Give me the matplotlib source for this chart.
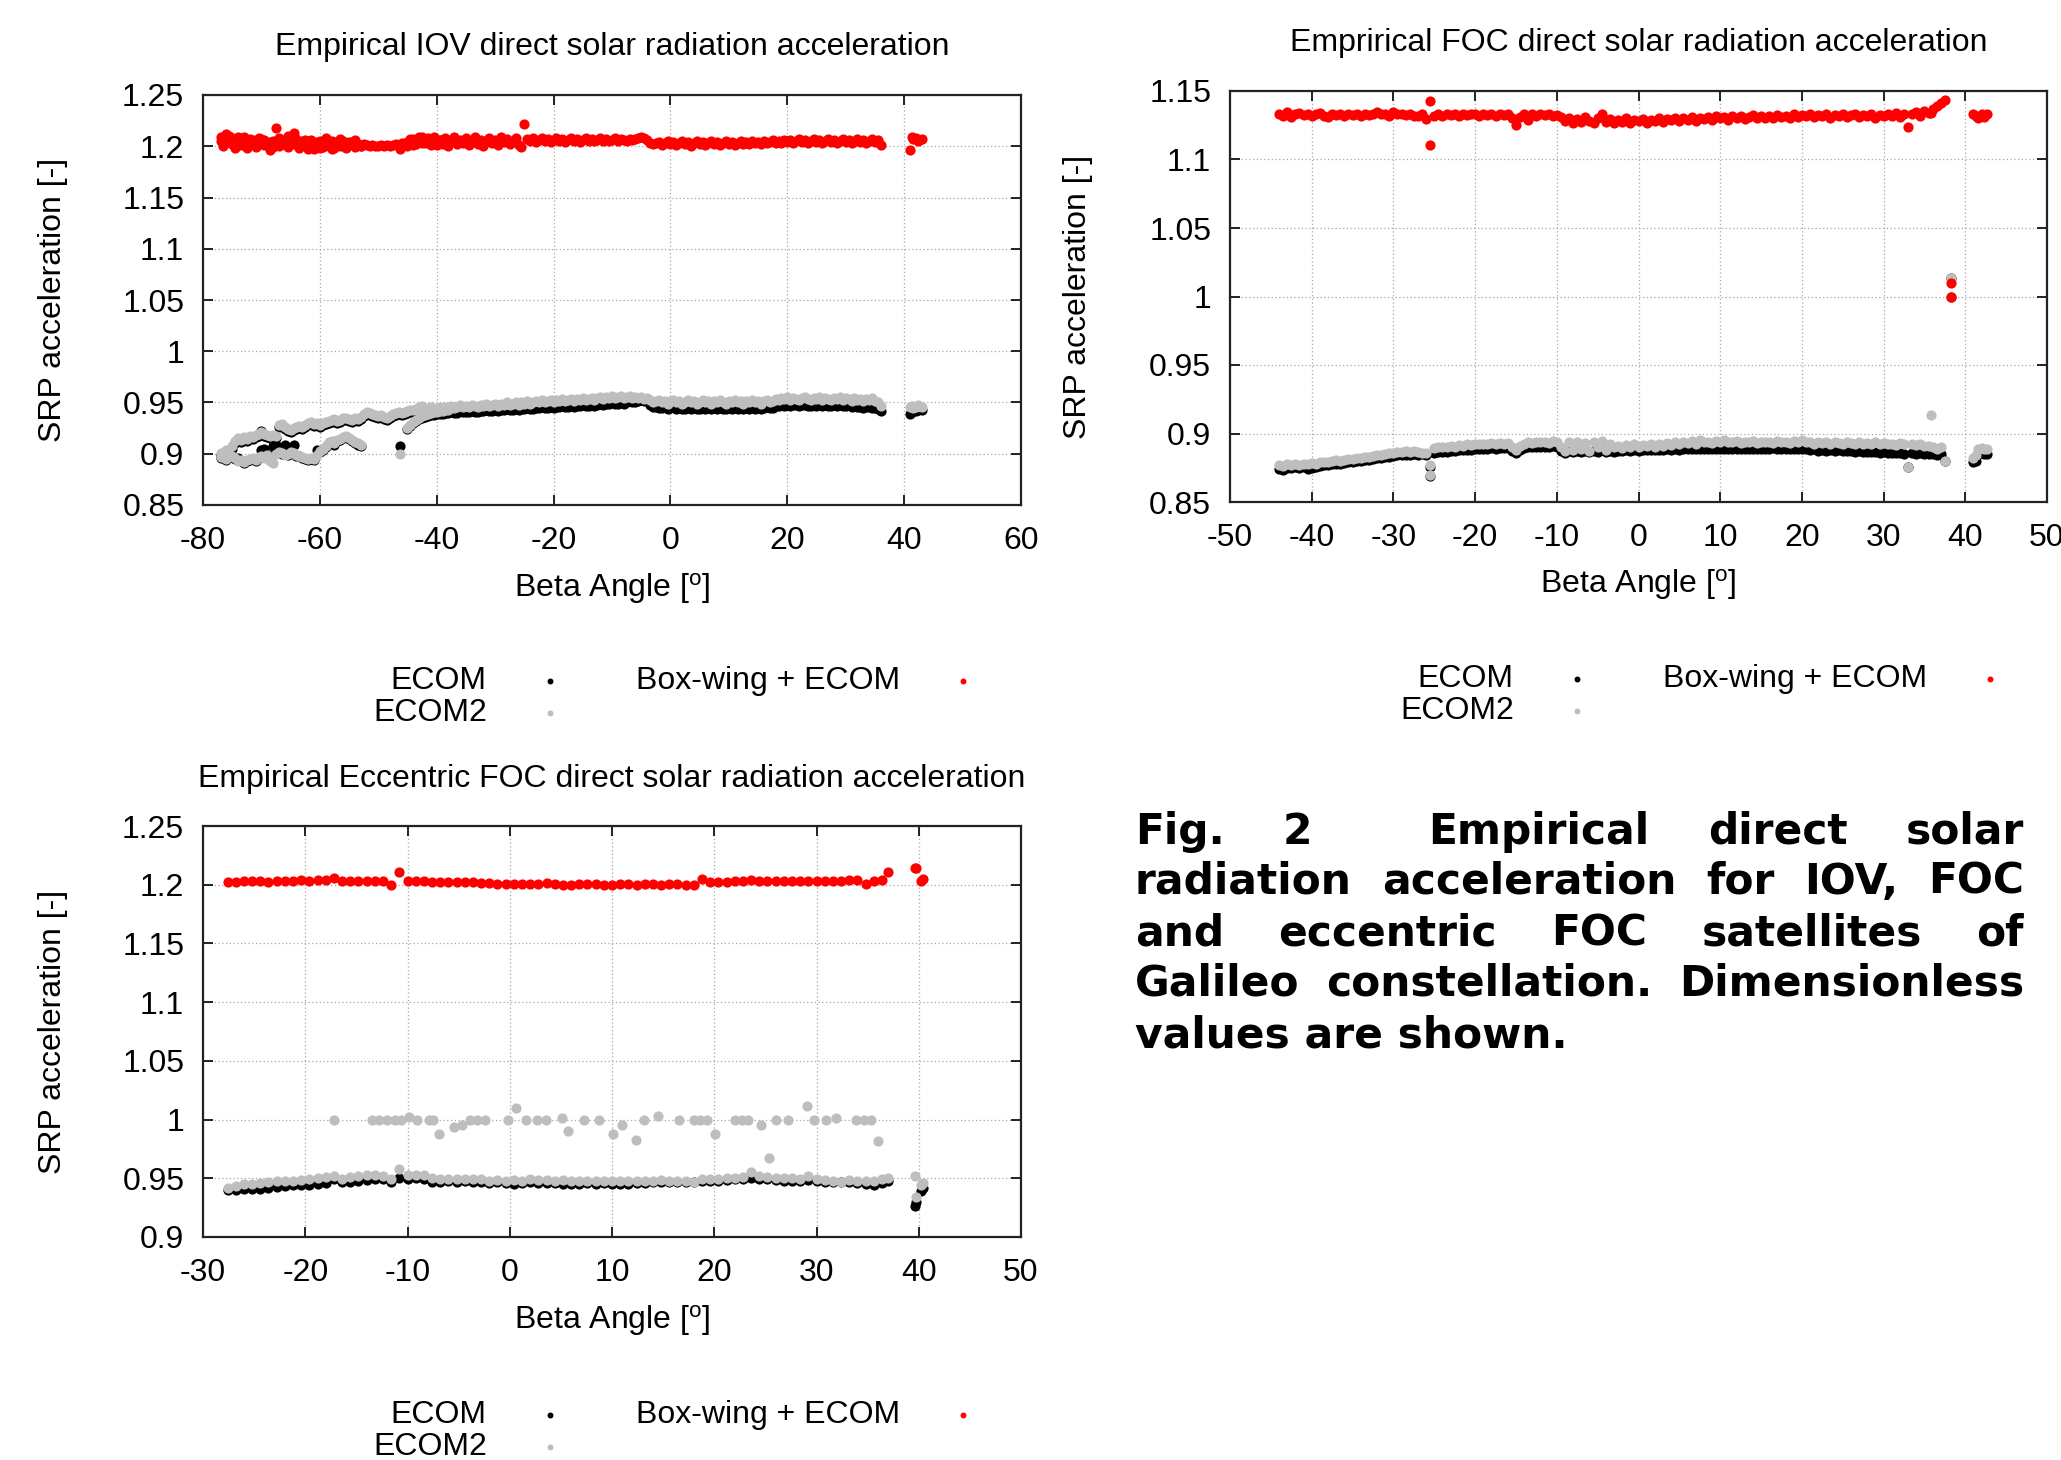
import numpy as np
import matplotlib
matplotlib.use("Agg")
import matplotlib.pyplot as plt
from matplotlib.ticker import FormatStrFormatter

plt.rcParams['font.family'] = ['Liberation Sans', 'DejaVu Sans']
plt.rcParams['mathtext.fontset'] = 'custom'
plt.rcParams['mathtext.rm'] = 'Liberation Sans'
plt.rcParams['mathtext.it'] = 'Liberation Sans:italic'
plt.rcParams['mathtext.bf'] = 'Liberation Sans:bold'

# ---------------------------------------------------------------- labels
series_labels = ["ECOM", "ECOM2", "Box-wing + ECOM"]
x_label = r"Beta Angle [$^{\mathrm{o}}$]"
y_label = "SRP acceleration [-]"
titles = ["Empirical IOV direct solar radiation acceleration",
          "Emprirical FOC direct solar radiation acceleration",
          "Empirical Eccentric FOC direct solar radiation acceleration"]

iov_xticks = [-80, -60, -40, -20, 0, 20, 40, 60]
iov_yticks = [0.85, 0.9, 0.95, 1.0, 1.05, 1.1, 1.15, 1.2, 1.25]
foc_xticks = [-50, -40, -30, -20, -10, 0, 10, 20, 30, 40, 50]
foc_yticks = [0.85, 0.9, 0.95, 1.0, 1.05, 1.1, 1.15]
ecc_xticks = [-30, -20, -10, 0, 10, 20, 30, 40, 50]
ecc_yticks = [0.9, 0.95, 1.0, 1.05, 1.1, 1.15, 1.2, 1.25]

# ---------------------------------------------------------------- IOV data
iov_beta = [
    # main branch
    -77.0, -76.5, -76.0, -75.5, -75.0, -74.5, -74.0, -73.5, -73.0, -72.5,
    -72.0, -71.5, -71.0, -70.5, -70.0, -69.5, -69.0, -68.5, -68.0, -67.5,
    -67.0, -66.5, -66.0, -65.5, -65.0, -64.5, -64.0, -63.5, -63.0, -62.5,
    -62.0, -61.5, -61.0, -60.5, -60.0, -59.5, -59.0, -58.5, -58.0, -57.5,
    -57.0, -56.5, -56.0, -55.5, -55.0, -54.5, -54.0, -53.5, -53.0, -52.5,
    -52.0, -51.5, -51.0, -50.5, -50.0, -49.5, -49.0, -48.5, -48.0, -47.5,
    -47.0, -46.5, -46.0, -45.5, -45.0, -44.5, -44.0, -43.5, -43.0, -42.5,
    -42.0, -41.5, -41.0, -40.5, -40.0,
    -39.5, -39.0, -38.5, -38.0, -37.5, -37.0, -36.5, -36.0, -35.5, -35.0,
    -34.5, -34.0, -33.5, -33.0, -32.5, -32.0, -31.5, -31.0, -30.5, -30.0,
    -29.5, -29.0, -28.5, -28.0, -27.5, -27.0, -26.5, -26.0, -25.5, -25.0,
    -24.5, -24.0, -23.5, -23.0, -22.5, -22.0, -21.5, -21.0, -20.5, -20.0,
    -19.5, -19.0, -18.5, -18.0, -17.5, -17.0, -16.5, -16.0, -15.5, -15.0,
    -14.5, -14.0, -13.5, -13.0, -12.5, -12.0,
    -11.5, -11.0, -10.5, -10.0, -9.5, -9.0, -8.5, -8.0, -7.5, -7.0,
    -6.5, -6.0, -5.5, -5.0, -4.5, -4.0,
    -3.5, -3.0, -2.5, -2.0, -1.5, -1.0, -0.5, 0.0, 0.5, 1.0,
    1.5, 2.0, 2.5, 3.0, 3.5, 4.0, 4.5, 5.0, 5.5, 6.0,
    6.5, 7.0, 7.5, 8.0, 8.5, 9.0, 9.5, 10.0, 10.5, 11.0,
    11.5, 12.0, 12.5, 13.0, 13.5, 14.0, 14.5, 15.0, 15.5, 16.0,
    16.5, 17.0, 17.5, 18.0,
    18.5, 19.0, 19.5, 20.0, 20.5, 21.0, 21.5, 22.0, 22.5, 23.0,
    23.5, 24.0, 24.5, 25.0, 25.5, 26.0, 26.5, 27.0, 27.5, 28.0,
    28.5, 29.0, 29.5, 30.0, 30.5, 31.0, 31.5, 32.0, 32.5, 33.0,
    33.5, 34.0, 34.5, 35.0, 35.5,
    36.0,
    # lower branch on the left
    -77.0, -76.5, -76.0, -75.5, -75.0, -74.5, -74.0, -73.5, -73.0, -72.5,
    -72.0, -71.5, -71.0, -70.5, -70.0, -69.5, -69.0, -68.5, -68.0, -67.5,
    -67.0, -66.5, -66.0, -65.5, -65.0, -64.5, -64.0, -63.5, -63.0, -62.5,
    -62.0, -61.5, -61.0, -60.5, -60.0, -59.5, -59.0, -58.5, -58.0, -57.5,
    -57.0, -56.5, -56.0, -55.5, -55.0, -54.5, -54.0, -53.5, -53.0,
    # rising sub-branch
    -45.0, -44.5, -44.0, -43.5, -43.0, -42.5, -42.0, -41.5, -41.0, -40.5,
    -40.0, -39.5, -39.0, -38.5, -38.0,
    # isolated day
    -46.3,
    # after the gap
    41.0, 41.3, 41.6, 42.0, 42.3, 42.6, 43.0,
]

iov_ecom = [
    0.899, 0.896, 0.902, 0.897, 0.905, 0.910, 0.913, 0.911, 0.914, 0.912,
    0.915, 0.914, 0.916, 0.917, 0.9225, 0.917, 0.916, 0.915, 0.916, 0.915,
    0.926, 0.927, 0.924, 0.922, 0.921, 0.923, 0.924, 0.925, 0.924, 0.926,
    0.928, 0.929, 0.927, 0.928, 0.926, 0.928, 0.929, 0.930, 0.931, 0.932,
    0.930, 0.931, 0.933, 0.933, 0.932, 0.931, 0.933, 0.932, 0.934, 0.937,
    0.939, 0.938, 0.937, 0.936, 0.935, 0.936, 0.934, 0.933, 0.935, 0.937,
    0.938, 0.939, 0.938, 0.939, 0.940, 0.941, 0.941, 0.942, 0.943, 0.944,
    0.941, 0.942, 0.943, 0.941, 0.941,
    0.940, 0.939, 0.940, 0.940, 0.941, 0.940, 0.940, 0.942, 0.941, 0.941,
    0.941, 0.942, 0.941, 0.941, 0.942, 0.942, 0.943, 0.942, 0.942, 0.943,
    0.942, 0.943, 0.943, 0.944, 0.943, 0.943, 0.944, 0.943, 0.944, 0.944,
    0.945, 0.944, 0.944, 0.945, 0.945, 0.946, 0.945, 0.945, 0.946, 0.945,
    0.946, 0.946, 0.947, 0.946, 0.946, 0.947, 0.946, 0.947, 0.947, 0.948,
    0.947, 0.947, 0.948, 0.947, 0.948, 0.949,
    0.948, 0.949, 0.949, 0.950, 0.949, 0.949, 0.950, 0.949, 0.950, 0.951,
    0.950, 0.950, 0.951, 0.952, 0.951, 0.951,
    0.948, 0.946, 0.946, 0.945, 0.945, 0.946, 0.944, 0.945, 0.946, 0.944,
    0.945, 0.944, 0.944, 0.945, 0.944, 0.945, 0.944, 0.944, 0.945, 0.944,
    0.945, 0.944, 0.945, 0.944, 0.945, 0.944, 0.944, 0.945, 0.944, 0.945,
    0.944, 0.945, 0.944, 0.945, 0.944, 0.945, 0.944, 0.945, 0.944, 0.945,
    0.946, 0.945, 0.945, 0.947,
    0.947, 0.948, 0.947, 0.948, 0.947, 0.948, 0.948, 0.947, 0.948, 0.948,
    0.947, 0.947, 0.948, 0.947, 0.948, 0.947, 0.948, 0.947, 0.947, 0.948,
    0.947, 0.948, 0.947, 0.947, 0.948, 0.946, 0.947, 0.946, 0.946, 0.945,
    0.946, 0.946, 0.945, 0.945, 0.944,
    0.942,
    0.896, 0.898, 0.894, 0.899, 0.897, 0.895, 0.8955, 0.893, 0.891, 0.893,
    0.894, 0.895, 0.893, 0.896, 0.904, 0.905, 0.898, 0.8985, 0.908, 0.9085,
    0.901, 0.900, 0.9085, 0.899, 0.901, 0.9085, 0.898, 0.8978, 0.896, 0.895,
    0.894, 0.895, 0.894, 0.9036, 0.902, 0.904, 0.907, 0.910, 0.911, 0.909,
    0.912, 0.913, 0.915, 0.916, 0.914, 0.912, 0.910, 0.909, 0.908,
    0.924, 0.927, 0.930, 0.932, 0.934, 0.935, 0.936, 0.937, 0.938, 0.938,
    0.939, 0.939, 0.940, 0.940, 0.941,
    0.9075,
    0.939, 0.941, 0.943, 0.942, 0.943, 0.944, 0.943,
]

iov_ecom2 = [
    0.901, 0.897, 0.904, 0.899, 0.908, 0.912, 0.915, 0.913, 0.916, 0.914,
    0.917, 0.916, 0.918, 0.919, 0.921, 0.919, 0.918, 0.917, 0.918, 0.917,
    0.928, 0.929, 0.926, 0.924, 0.923, 0.925, 0.926, 0.927, 0.926, 0.928,
    0.930, 0.931, 0.929, 0.930, 0.928, 0.930, 0.931, 0.932, 0.933, 0.934,
    0.932, 0.933, 0.935, 0.935, 0.934, 0.933, 0.935, 0.934, 0.936, 0.939,
    0.941, 0.940, 0.939, 0.938, 0.937, 0.938, 0.936, 0.935, 0.937, 0.939,
    0.940, 0.941, 0.940, 0.941, 0.942, 0.943, 0.943, 0.944, 0.946, 0.947,
    0.944, 0.945, 0.946, 0.944, 0.945,
    0.946, 0.944, 0.946, 0.945, 0.947, 0.945, 0.946, 0.948, 0.946, 0.947,
    0.946, 0.948, 0.947, 0.946, 0.948, 0.947, 0.949, 0.947, 0.948, 0.949,
    0.947, 0.949, 0.948, 0.950, 0.948, 0.949, 0.950, 0.948, 0.950, 0.949,
    0.951, 0.949, 0.950, 0.951, 0.950, 0.952, 0.950, 0.951, 0.952, 0.950,
    0.952, 0.951, 0.953, 0.951, 0.952, 0.953, 0.951, 0.953, 0.952, 0.954,
    0.952, 0.953, 0.954, 0.952, 0.954, 0.955,
    0.953, 0.955, 0.954, 0.956, 0.954, 0.955, 0.956, 0.954, 0.955, 0.956,
    0.954, 0.955, 0.954, 0.955, 0.953, 0.954,
    0.952, 0.950, 0.951, 0.952, 0.950, 0.951, 0.949, 0.951, 0.952, 0.950,
    0.951, 0.949, 0.950, 0.952, 0.950, 0.951, 0.949, 0.950, 0.952, 0.950,
    0.951, 0.949, 0.951, 0.950, 0.952, 0.950, 0.949, 0.951, 0.950, 0.952,
    0.950, 0.951, 0.949, 0.951, 0.950, 0.952, 0.950, 0.951, 0.949, 0.951,
    0.952, 0.950, 0.951, 0.953,
    0.952, 0.954, 0.953, 0.955, 0.952, 0.954, 0.953, 0.952, 0.954, 0.955,
    0.953, 0.952, 0.954, 0.953, 0.955, 0.952, 0.954, 0.953, 0.952, 0.954,
    0.953, 0.955, 0.952, 0.954, 0.953, 0.951, 0.954, 0.952, 0.953, 0.951,
    0.953, 0.952, 0.954, 0.951, 0.950,
    0.947,
    0.897, 0.899, 0.895, 0.900, 0.898, 0.896, 0.893, 0.894, 0.892, 0.894,
    0.895, 0.896, 0.894, 0.897, 0.898, 0.896, 0.899, 0.893, 0.891, 0.900,
    0.902, 0.901, 0.899, 0.900, 0.902, 0.901, 0.899, 0.898, 0.897, 0.896,
    0.895, 0.896, 0.895, 0.899, 0.903, 0.905, 0.908, 0.911, 0.912, 0.910,
    0.913, 0.914, 0.916, 0.917, 0.915, 0.913, 0.911, 0.910, 0.909,
    0.925, 0.928, 0.931, 0.933, 0.935, 0.937, 0.938, 0.939, 0.940, 0.941,
    0.941, 0.942, 0.942, 0.943, 0.943,
    0.900,
    0.946, 0.947, 0.945, 0.946, 0.948, 0.947, 0.946,
]

iov_boxwing = [
    1.209, 1.203, 1.212, 1.205, 1.208, 1.204, 1.209, 1.201, 1.206, 1.198,
    1.207, 1.204, 1.205, 1.208, 1.203, 1.206, 1.201, 1.204, 1.199, 1.2175,
    1.208, 1.202, 1.205, 1.210, 1.204, 1.213, 1.207, 1.202, 1.205, 1.203,
    1.197, 1.206, 1.201, 1.204, 1.198, 1.203, 1.208, 1.201, 1.197, 1.204,
    1.202, 1.207, 1.203, 1.200, 1.204, 1.203, 1.206, 1.201, 1.200, 1.202,
    1.201, 1.200, 1.201, 1.200, 1.200, 1.201, 1.200, 1.201, 1.200, 1.201,
    1.202, 1.201, 1.203, 1.201, 1.204, 1.207, 1.201, 1.205, 1.209, 1.203,
    1.206, 1.208, 1.202, 1.209, 1.201,
    1.206, 1.203, 1.208, 1.200, 1.205, 1.209, 1.202, 1.206, 1.203, 1.208,
    1.201, 1.205, 1.209, 1.202, 1.206, 1.200, 1.204, 1.208, 1.203, 1.206,
    1.201, 1.209, 1.204, 1.207, 1.202, 1.205, 1.208, 1.201, 1.199, 1.2214,
    1.207, 1.205, 1.208, 1.204, 1.206, 1.208, 1.205, 1.207, 1.204, 1.206,
    1.208, 1.205, 1.207, 1.204, 1.206, 1.208, 1.205, 1.207, 1.204, 1.206,
    1.208, 1.205, 1.207, 1.205, 1.206, 1.208,
    1.205, 1.207, 1.205, 1.206, 1.208, 1.205, 1.207, 1.206, 1.205, 1.207,
    1.206, 1.207, 1.208, 1.209, 1.208, 1.206,
    1.203, 1.202, 1.203, 1.204, 1.201, 1.203, 1.205, 1.202, 1.204, 1.201,
    1.203, 1.205, 1.202, 1.204, 1.200, 1.203, 1.205, 1.202, 1.204, 1.201,
    1.203, 1.205, 1.202, 1.204, 1.201, 1.203, 1.205, 1.202, 1.204, 1.201,
    1.203, 1.205, 1.202, 1.204, 1.202, 1.205, 1.203, 1.204, 1.202, 1.205,
    1.203, 1.204, 1.206, 1.203,
    1.205, 1.203, 1.206, 1.204, 1.206, 1.203, 1.205, 1.207, 1.204, 1.206,
    1.203, 1.205, 1.207, 1.204, 1.206, 1.203, 1.205, 1.207, 1.204, 1.206,
    1.203, 1.205, 1.207, 1.204, 1.206, 1.203, 1.205, 1.207, 1.204, 1.206,
    1.203, 1.205, 1.207, 1.204, 1.206,
    1.201,
    1.205, 1.200, 1.207, 1.210, 1.202, 1.198, 1.206, 1.203, 1.209, 1.200,
    1.202, 1.206, 1.199, 1.204, 1.207, 1.201, 1.203, 1.196, 1.205, 1.202,
    1.200, 1.206, 1.203, 1.199, 1.207, 1.202, 1.204, 1.198, 1.203, 1.206,
    1.200, 1.204, 1.197, 1.202, 1.205, 1.199, 1.203, 1.200, 1.205, 1.198,
    1.203, 1.200, 1.205, 1.198, 1.202, 1.204, 1.199, 1.202, 1.200,
    1.200, 1.204, 1.207, 1.202, 1.206, 1.209, 1.203, 1.205, 1.201, 1.208,
    1.204, 1.206, 1.202, 1.207, 1.205,
    1.197,
    1.196, 1.209, 1.207, 1.208, 1.205, 1.206, 1.207,
]

# ---------------------------------------------------------------- FOC data
foc_beta = [
    -44.0, -43.5, -43.0, -42.5, -42.0, -41.5, -41.0, -40.5, -40.0, -39.5,
    -39.0, -38.5, -38.0, -37.5, -37.0, -36.5, -36.0, -35.5, -35.0, -34.5,
    -34.0, -33.5, -33.0, -32.5, -32.0, -31.5, -31.0, -30.5, -30.0, -29.5,
    -29.0, -28.5, -28.0, -27.5, -27.0, -26.5, -26.0, -25.5, -25.0, -24.5,
    -24.0, -23.5, -23.0, -22.5, -22.0, -21.5, -21.0, -20.5, -20.0, -19.5,
    -19.0, -18.5, -18.0, -17.5, -17.0, -16.5, -16.0, -15.5, -15.0, -14.5,
    -14.0, -13.5, -13.0, -12.5, -12.0, -11.5, -11.0, -10.5, -10.0, -9.5,
    -9.0, -8.5, -8.0, -7.5, -7.0, -6.5, -6.0, -5.5, -5.0, -4.5,
    -4.0, -3.5, -3.0, -2.5, -2.0, -1.5, -1.0, -0.5, 0.0, 0.5,
    1.0, 1.5, 2.0, 2.5, 3.0, 3.5, 4.0, 4.5, 5.0, 5.5,
    6.0, 6.5, 7.0, 7.5, 8.0, 8.5, 9.0, 9.5, 10.0, 10.5,
    11.0, 11.5, 12.0, 12.5, 13.0, 13.5, 14.0, 14.5, 15.0, 15.5,
    16.0, 16.5, 17.0, 17.5, 18.0, 18.5, 19.0, 19.5, 20.0, 20.5,
    21.0, 21.5, 22.0, 22.5, 23.0, 23.5, 24.0, 24.5, 25.0, 25.5,
    26.0, 26.5, 27.0, 27.5, 28.0, 28.5, 29.0, 29.5, 30.0, 30.5,
    31.0, 31.5, 32.0, 32.5, 33.0, 33.5, 34.0, 34.5, 35.0, 35.5,
    36.0, 36.5, 37.0, 37.5,
    # isolated days
    -25.5, 35.8, 38.2, 38.3, 41.0, 41.3, 41.6, 42.0, 42.3, 42.6,
]

foc_ecom = [
    0.8744, 0.8735, 0.8750, 0.8745, 0.8752, 0.8748, 0.8755, 0.8740, 0.8750, 0.8755,
    0.8765, 0.8770, 0.8768, 0.8775, 0.8780, 0.8778, 0.8785, 0.8790, 0.8792, 0.8796,
    0.8800, 0.8805, 0.8808, 0.8812, 0.8818, 0.8822, 0.8828, 0.8832, 0.8836, 0.8840,
    0.8842, 0.8846, 0.8844, 0.8848, 0.8845, 0.8850, 0.8840, 0.8755, 0.8860, 0.8862,
    0.8866, 0.8868, 0.8872, 0.8870, 0.8876, 0.8878, 0.8882, 0.8880, 0.8886, 0.8890,
    0.8888, 0.8890, 0.8893, 0.8890, 0.8895, 0.8892, 0.8896, 0.8870, 0.8860, 0.8880,
    0.8895, 0.8900, 0.8898, 0.8902, 0.8900, 0.8905, 0.8900, 0.8908, 0.8900, 0.8870,
    0.8860, 0.8870, 0.8865, 0.8872, 0.8866, 0.8870, 0.8862, 0.8875, 0.8868, 0.8880,
    0.8866, 0.8872, 0.8868, 0.8874, 0.8870, 0.8876, 0.8872, 0.8878, 0.8874, 0.8878,
    0.8876, 0.8880, 0.8876, 0.8882, 0.8878, 0.8884, 0.8880, 0.8886, 0.8882, 0.8886,
    0.8884, 0.8888, 0.8884, 0.8890, 0.8886, 0.8890, 0.8886, 0.8888, 0.8884, 0.8888,
    0.8886, 0.8890, 0.8886, 0.8890, 0.8886, 0.8890, 0.8888, 0.8890, 0.8886, 0.8890,
    0.8888, 0.8892, 0.8888, 0.8890, 0.8886, 0.8890, 0.8886, 0.8888, 0.8884, 0.8886,
    0.8880, 0.8884, 0.8870, 0.8878, 0.8874, 0.8878, 0.8872, 0.8876, 0.8870, 0.8874,
    0.8870, 0.8866, 0.8870, 0.8864, 0.8868, 0.8862, 0.8866, 0.8860, 0.8864, 0.8858,
    0.8860, 0.8856, 0.8858, 0.8854, 0.8756, 0.8856, 0.8852, 0.8856, 0.8850, 0.8854,
    0.8852, 0.8845, 0.8850, 0.8798,
    0.8690, 0.8855, 1.0000, 1.0135, 0.8793, 0.8800, 0.8854, 0.8855, 0.8850, 0.8854,
]

foc_ecom2 = [
    0.8768, 0.8760, 0.8775, 0.8770, 0.8778, 0.8772, 0.8780, 0.8776, 0.8785, 0.8780,
    0.8790, 0.8795, 0.8792, 0.8800, 0.8805, 0.8800, 0.8810, 0.8812, 0.8815, 0.8820,
    0.8822, 0.8828, 0.8830, 0.8835, 0.8840, 0.8845, 0.8850, 0.8855, 0.8860, 0.8865,
    0.8865, 0.8870, 0.8868, 0.8872, 0.8862, 0.8860, 0.8855, 0.8768, 0.8895, 0.8900,
    0.8905, 0.8900, 0.8910, 0.8905, 0.8915, 0.8910, 0.8920, 0.8915, 0.8922, 0.8925,
    0.8920, 0.8925, 0.8928, 0.8922, 0.8930, 0.8925, 0.8930, 0.8900, 0.8880, 0.8910,
    0.8925, 0.8935, 0.8930, 0.8938, 0.8935, 0.8940, 0.8930, 0.8945, 0.8935, 0.8900,
    0.8870, 0.8935, 0.8880, 0.8940, 0.8890, 0.8930, 0.8875, 0.8940, 0.8900, 0.8945,
    0.8880, 0.8920, 0.8900, 0.8910, 0.8895, 0.8915, 0.8900, 0.8920, 0.8905, 0.8915,
    0.8910, 0.8925, 0.8905, 0.8920, 0.8910, 0.8930, 0.8915, 0.8940, 0.8920, 0.8935,
    0.8930, 0.8945, 0.8925, 0.8950, 0.8935, 0.8940, 0.8930, 0.8945, 0.8935, 0.8950,
    0.8940, 0.8935, 0.8945, 0.8930, 0.8940, 0.8935, 0.8945, 0.8930, 0.8940, 0.8935,
    0.8940, 0.8930, 0.8945, 0.8935, 0.8940, 0.8930, 0.8945, 0.8940, 0.8955, 0.8935,
    0.8940, 0.8925, 0.8935, 0.8930, 0.8940, 0.8925, 0.8935, 0.8930, 0.8925, 0.8935,
    0.8930, 0.8920, 0.8935, 0.8925, 0.8930, 0.8920, 0.8935, 0.8925, 0.8930, 0.8920,
    0.8925, 0.8915, 0.8930, 0.8920, 0.8756, 0.8925, 0.8915, 0.8920, 0.8910, 0.8910,
    0.8905, 0.8890, 0.8905, 0.8798,
    0.8700, 0.9134, 1.0000, 1.0135, 0.8824, 0.8840, 0.8890, 0.8892, 0.8888, 0.8890,
]

foc_boxwing = [
    1.1335, 1.1320, 1.1345, 1.1310, 1.1330, 1.1340, 1.1325, 1.1335, 1.1315, 1.1330,
    1.1340, 1.1320, 1.1310, 1.1335, 1.1325, 1.1330, 1.1320, 1.1335, 1.1325, 1.1330,
    1.1320, 1.1335, 1.1325, 1.1330, 1.1345, 1.1330, 1.1335, 1.1320, 1.1345, 1.1330,
    1.1335, 1.1325, 1.1330, 1.1320, 1.1315, 1.1330, 1.1298, 1.1427, 1.1315, 1.1330,
    1.1320, 1.1335, 1.1325, 1.1330, 1.1320, 1.1335, 1.1325, 1.1330, 1.1335, 1.1320,
    1.1330, 1.1325, 1.1335, 1.1320, 1.1330, 1.1325, 1.1335, 1.1300, 1.1250, 1.1310,
    1.1330, 1.1285, 1.1335, 1.1320, 1.1335, 1.1325, 1.1330, 1.1320, 1.1325, 1.1310,
    1.1280, 1.1305, 1.1270, 1.1295, 1.1275, 1.1310, 1.1280, 1.1265, 1.1300, 1.1335,
    1.1275, 1.1295, 1.1265, 1.1290, 1.1275, 1.1300, 1.1270, 1.1290, 1.1280, 1.1295,
    1.1270, 1.1290, 1.1280, 1.1300, 1.1275, 1.1295, 1.1285, 1.1300, 1.1280, 1.1305,
    1.1290, 1.1310, 1.1280, 1.1305, 1.1295, 1.1310, 1.1285, 1.1315, 1.1300, 1.1310,
    1.1290, 1.1315, 1.1300, 1.1320, 1.1295, 1.1310, 1.1325, 1.1300, 1.1315, 1.1305,
    1.1320, 1.1300, 1.1325, 1.1310, 1.1320, 1.1305, 1.1335, 1.1310, 1.1325, 1.1315,
    1.1335, 1.1310, 1.1325, 1.1315, 1.1330, 1.1305, 1.1325, 1.1315, 1.1330, 1.1310,
    1.1325, 1.1335, 1.1310, 1.1325, 1.1315, 1.1330, 1.1305, 1.1325, 1.1315, 1.1335,
    1.1320, 1.1340, 1.1310, 1.1335, 1.1240, 1.1330, 1.1345, 1.1320, 1.1355, 1.1340,
    1.1365, 1.1390, 1.1410, 1.1434,
    1.1106, 1.1340, 1.0000, 1.0100, 1.1335, 1.1320, 1.1305, 1.1330, 1.1310, 1.1335,
]

# ---------------------------------------------------------------- eccentric FOC data
ecc_beta = [
    -27.6, -26.8, -26.0, -25.2, -24.4, -23.6, -22.8, -22.0, -21.2, -20.4,
    -19.6, -18.8, -18.0, -17.2, -16.4, -15.6, -14.8, -14.0, -13.2, -12.4,
    -11.6, -10.8, -10.0, -9.2, -8.4, -7.6, -6.8, -6.0, -5.2, -4.4,
    -3.6, -2.8, -2.0, -1.2, -0.4, 0.4, 1.2, 2.0, 2.8, 3.6,
    4.4, 5.2, 6.0, 6.8, 7.6, 8.4, 9.2, 10.0, 10.8, 11.6,
    12.4, 13.2, 14.0, 14.8, 15.6, 16.4, 17.2, 18.0, 18.8, 19.6,
    20.4, 21.2, 22.0, 22.8, 23.6, 24.4, 25.2, 26.0, 26.8, 27.6,
    28.4, 29.2, 30.0, 30.8, 31.6, 32.4, 33.2, 34.0, 34.8, 35.6,
    36.4,
    37.0, 39.6, 39.7, 40.2, 40.4,
]

ecc_ecom = [
    0.9398, 0.9400, 0.9405, 0.9410, 0.9412, 0.9420, 0.9430, 0.9435, 0.9440, 0.9440,
    0.9445, 0.9455, 0.9460, 0.9490, 0.9465, 0.9470, 0.9480, 0.9485, 0.9490, 0.9490,
    0.9470, 0.9500, 0.9495, 0.9500, 0.9495, 0.9470, 0.9470, 0.9475, 0.9470, 0.9475,
    0.9470, 0.9465, 0.9460, 0.9465, 0.9460, 0.9455, 0.9460, 0.9465, 0.9460, 0.9460,
    0.9458, 0.9455, 0.9450, 0.9455, 0.9460, 0.9455, 0.9458, 0.9452, 0.9450, 0.9455,
    0.9460, 0.9462, 0.9465, 0.9465, 0.9468, 0.9470, 0.9468, 0.9465, 0.9480, 0.9480,
    0.9480, 0.9485, 0.9490, 0.9495, 0.9500, 0.9495, 0.9490, 0.9485, 0.9480, 0.9480,
    0.9478, 0.9485, 0.9475, 0.9470, 0.9468, 0.9465, 0.9465, 0.9460, 0.9450, 0.9445,
    0.9460,
    0.9480, 0.9266, 0.9300, 0.9390, 0.9420,
]

ecc_ecom2 = [
    0.9420, 0.9435, 0.9450, 0.9455, 0.9460, 0.9470, 0.9475, 0.9480, 0.9480, 0.9485,
    0.9490, 0.9500, 0.9515, 0.9520, 0.9490, 0.9510, 0.9520, 0.9525, 0.9525, 0.9520,
    0.9490, 0.9580, 0.9530, 0.9530, 0.9530, 0.9500, 0.9495, 0.9495, 0.9490, 0.9495,
    0.9490, 0.9490, 0.9480, 0.9485, 0.9480, 0.9485, 0.9480, 0.9490, 0.9485, 0.9485,
    0.9480, 0.9485, 0.9480, 0.9475, 0.9480, 0.9475, 0.9480, 0.9475, 0.9480, 0.9475,
    0.9480, 0.9475, 0.9480, 0.9485, 0.9480, 0.9480, 0.9475, 0.9470, 0.9490, 0.9495,
    0.9495, 0.9500, 0.9505, 0.9510, 0.9550, 0.9520, 0.9510, 0.9505, 0.9500, 0.9500,
    0.9495, 0.9520, 0.9490, 0.9485, 0.9480, 0.9470, 0.9485, 0.9480, 0.9475, 0.9480,
    0.9490,
    0.9500, 0.9520, 0.9340, 0.9440, 0.9460,
]

ecc_boxwing = [
    1.2025, 1.2020, 1.2030, 1.2035, 1.2030, 1.2025, 1.2030, 1.2035, 1.2030, 1.2040,
    1.2035, 1.2040, 1.2040, 1.2060, 1.2030, 1.2035, 1.2035, 1.2035, 1.2030, 1.2035,
    1.1995, 1.2110, 1.2035, 1.2030, 1.2035, 1.2025, 1.2020, 1.2025, 1.2020, 1.2020,
    1.2020, 1.2015, 1.2015, 1.2010, 1.2005, 1.2010, 1.2005, 1.2010, 1.2010, 1.2015,
    1.2010, 1.2000, 1.2000, 1.2005, 1.2005, 1.2005, 1.2000, 1.2000, 1.2005, 1.2005,
    1.2000, 1.2005, 1.2005, 1.2000, 1.2005, 1.2005, 1.2000, 1.2000, 1.2045, 1.2020,
    1.2020, 1.2025, 1.2030, 1.2035, 1.2040, 1.2035, 1.2030, 1.2030, 1.2030, 1.2035,
    1.2030, 1.2035, 1.2030, 1.2035, 1.2030, 1.2035, 1.2040, 1.2040, 1.2005, 1.2030,
    1.2040,
    1.2105, 1.2145, 1.2145, 1.2035, 1.2050,
]

# ECOM2 days of the eccentric satellites that sit near 1.0
ecc_ecom2_high_beta = [
    -17.2, -13.5, -12.8, -12.0, -11.2, -10.6, -9.9, -9.1, -7.9, -7.5,
    -6.9, -5.5, -4.7, -3.9, -3.2, -2.4, -0.2, 0.6, 1.6, 2.7,
    3.5, 5.1, 5.7, 7.3, 8.7, 10.1, 11.0, 12.3, 13.1, 14.5,
    16.6, 18.0, 18.6, 19.3, 20.1, 22.0, 22.7, 23.3, 24.6, 25.4,
    26.0, 27.2, 29.1, 29.8, 30.9, 31.9, 33.9, 34.6, 35.3, 36.0,
]
ecc_ecom2_high = [
    1.0, 1.0, 1.0, 1.0, 1.0, 1.0, 1.0023, 1.0, 1.0, 1.0,
    0.9875, 0.994, 0.995, 1.0, 1.0, 1.0, 1.0, 1.0098, 1.0, 1.0,
    1.0, 1.001, 0.990, 1.0, 1.0, 0.988, 0.9953, 0.9828, 1.0, 1.003,
    1.0, 1.0, 1.0, 1.0, 0.988, 1.0, 1.0, 1.0, 0.9957, 0.967,
    1.0, 1.0, 1.0113, 1.0, 1.0, 1.0016, 1.0, 1.0, 1.0, 0.9817,
]

caption_lines = [
    ["Fig.", "2", "", "Empirical", "direct", "solar"],
    ["radiation", "acceleration", "for", "IOV,", "FOC"],
    ["and", "eccentric", "FOC", "satellites", "of"],
    ["Galileo", "constellation.", "Dimensionless"],
]
caption_last = "values are shown."

# ---------------------------------------------------------------- drawing
for name, arrs in {"iov": (iov_beta, iov_ecom, iov_ecom2, iov_boxwing),
                   "foc": (foc_beta, foc_ecom, foc_ecom2, foc_boxwing),
                   "ecc": (ecc_beta, ecc_ecom, ecc_ecom2, ecc_boxwing)}.items():
    lens = [len(a) for a in arrs]
    if len(set(lens)) != 1:
        raise ValueError(f"{name} length mismatch {lens}")
if len(ecc_ecom2_high_beta) != len(ecc_ecom2_high):
    raise ValueError("ecc high mismatch")

W, H = 2061, 1460
FS = 23
fig = plt.figure(figsize=(W / 100, H / 100), dpi=100)
fig.patch.set_facecolor('white')

C_BLACK, C_GRAY, C_RED = '#000000', '#bebebe', '#ff0000'
MS = 54


def make_axes(l, t, r, b):
    return fig.add_axes([l / W, 1 - b / H, (r - l) / W, (b - t) / H])


def style(ax, xlim, xticks, ylim, yticks, title, box, title_y, xlabel_y, ylabel_x):
    l, t, r, b = box
    ax.set_xlim(*xlim)
    ax.set_ylim(*ylim)
    ax.set_xticks(xticks)
    ax.set_yticks(yticks)
    ax.xaxis.set_major_formatter(FormatStrFormatter('%g'))
    ax.yaxis.set_major_formatter(FormatStrFormatter('%g'))
    ax.tick_params(axis='both', which='major', direction='in', length=7, width=1.4,
                   top=True, right=True, labelsize=FS, color='#222222')
    ax.tick_params(axis='x', pad=15)
    ax.tick_params(axis='y', pad=13.5)
    ax.grid(True, color='#a8a8a8', linestyle=(0, (1, 2)), linewidth=0.9)
    ax.set_axisbelow(True)
    for sp in ax.spines.values():
        sp.set_linewidth(1.6)
        sp.set_color('#222222')
    ax.set_title(title, fontsize=FS, y=1 + (t - title_y) / (b - t), va='center', pad=0)
    ax.set_xlabel(x_label, fontsize=FS, va='center')
    ax.xaxis.set_label_coords(0.5, (b - xlabel_y) / (b - t))
    ax.set_ylabel(y_label, fontsize=FS, va='center')
    ax.yaxis.set_label_coords((ylabel_x - l) / (r - l), 0.5)


def plot_series(ax, beta, ecom, ecom2, boxwing, extra=None):
    h1 = ax.scatter(beta, ecom, s=MS, c=C_BLACK, linewidths=0, zorder=3)
    h2 = ax.scatter(beta, ecom2, s=MS, c=C_GRAY, linewidths=0, zorder=4)
    if extra is not None:
        ax.scatter(extra[0], extra[1], s=MS, c=C_GRAY, linewidths=0, zorder=4)
    h3 = ax.scatter(beta, boxwing, s=MS, c=C_RED, linewidths=0, zorder=5)
    return [h1, h2, h3]


def add_legend(ax, handles, right_px, top_px):
    ax.legend(handles, series_labels, ncol=2, markerfirst=False, frameon=False,
              loc='upper right', bbox_to_anchor=(right_px / W, 1 - top_px / H),
              bbox_transform=fig.transFigure, fontsize=FS, handlelength=1.0,
              handletextpad=1.47, columnspacing=2.2, labelspacing=0.07,
              borderpad=0, borderaxespad=0, markerscale=0.58, scatterpoints=1)


# top-left: IOV
box1 = (203, 95, 1021, 505)
ax1 = make_axes(*box1)
h = plot_series(ax1, iov_beta, iov_ecom, iov_ecom2, iov_boxwing)
style(ax1, (-80, 60), iov_xticks, (0.85, 1.25), iov_yticks, titles[0], box1, 47, 589, 53)
add_legend(ax1, h, 979, 666)

# top-right: FOC
box2 = (1230, 91, 2047, 502)
ax2 = make_axes(*box2)
h = plot_series(ax2, foc_beta, foc_ecom, foc_ecom2, foc_boxwing)
style(ax2, (-50, 50), foc_xticks, (0.85, 1.15), foc_yticks, titles[1], box2, 43, 585, 1078)
add_legend(ax2, h, 2006, 664)

# bottom-left: eccentric FOC
box3 = (203, 826, 1021, 1237)
ax3 = make_axes(*box3)
h = plot_series(ax3, ecc_beta, ecc_ecom, ecc_ecom2, ecc_boxwing,
                extra=(ecc_ecom2_high_beta, ecc_ecom2_high))
style(ax3, (-30, 50), ecc_xticks, (0.9, 1.25), ecc_yticks, titles[2], box3, 779, 1321, 53)
add_legend(ax3, h, 979, 1400)

# ---------------------------------------------------------------- caption (justified)
cap_kw = dict(family='DejaVu Sans', weight='bold', size=30.5)
renderer = fig.canvas.get_renderer()


def word_width(w):
    if not w:
        return 0.0
    t = fig.text(0, 0, w, **cap_kw)
    bb = t.get_window_extent(renderer)
    t.remove()
    return bb.width


cap_left, cap_right = 1135, 2024
baselines = [844, 894, 946, 996, 1048]
for words, base in zip(caption_lines, baselines):
    widths = [word_width(w) for w in words]
    gap = (cap_right - cap_left - sum(widths)) / (len(words) - 1)
    x = cap_left
    for w, wd in zip(words, widths):
        if w:
            fig.text(x / W, 1 - base / H, w, ha='left', va='baseline', **cap_kw)
        x += wd + gap
fig.text(cap_left / W, 1 - baselines[-1] / H, caption_last, ha='left', va='baseline', **cap_kw)

fig.savefig('out.png', dpi=100, facecolor='white')
